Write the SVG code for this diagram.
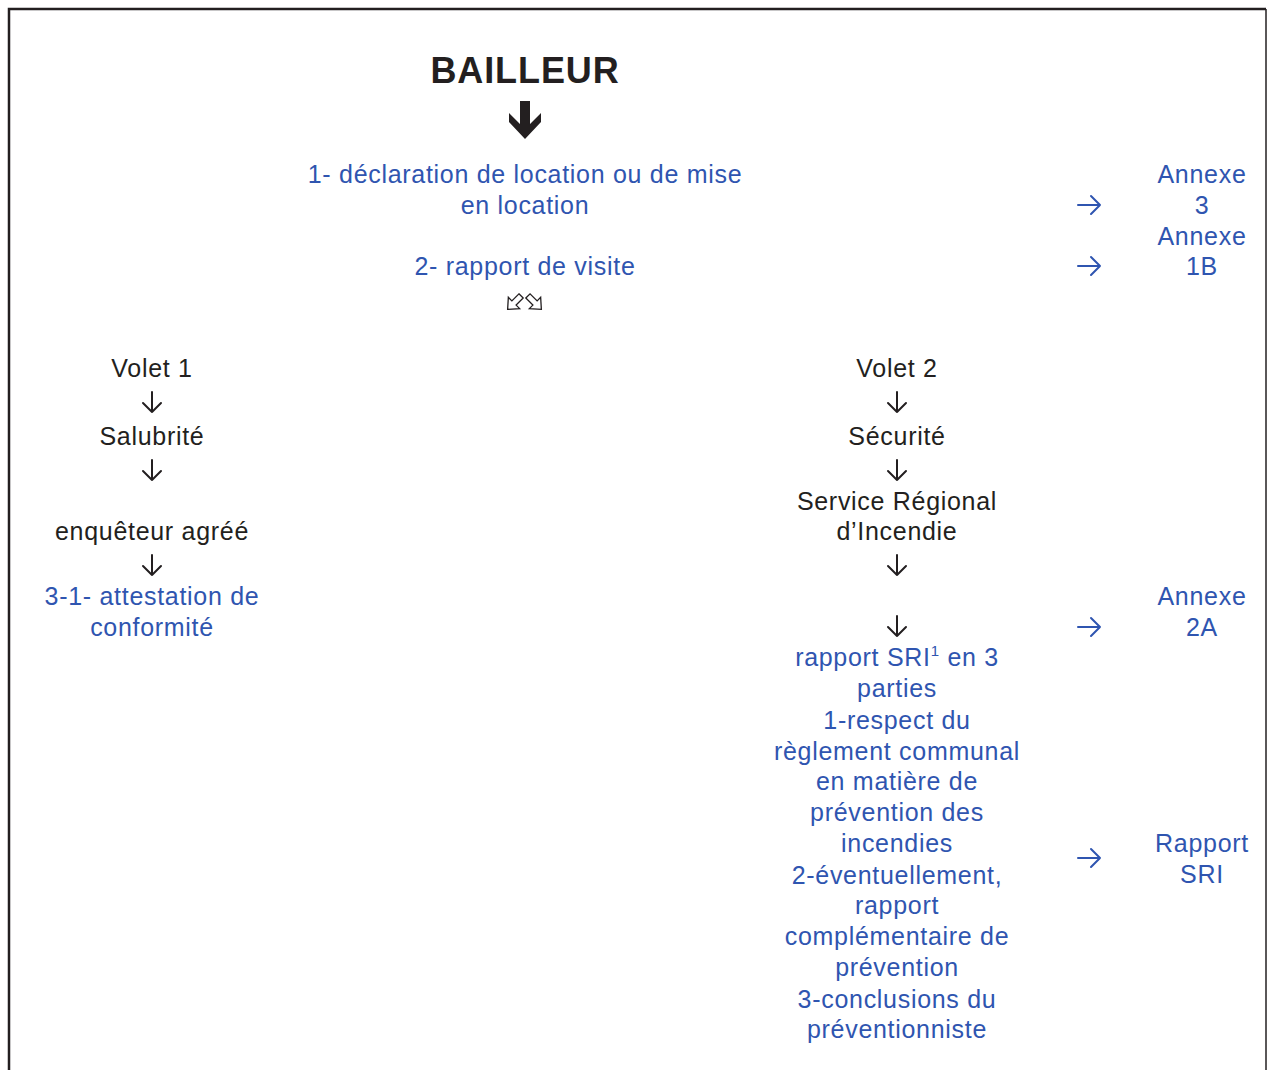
<svg xmlns="http://www.w3.org/2000/svg" width="1267" height="1070" viewBox="0 0 1267 1070">
  <style>
    text { font-family: "Liberation Sans", Arial, sans-serif; font-size: 25px; letter-spacing: 0.7px; text-anchor: middle; }
    .k { fill: #231f20; }
    .b { fill: #2f55b0; }
    .title { font-size: 36px; font-weight: bold; letter-spacing: 0.9px; }
    .down { fill: none; stroke: #231f20; stroke-width: 2; stroke-linecap: round; stroke-linejoin: round; }
    .right { fill: none; stroke: #2f55b0; stroke-width: 2; stroke-linecap: round; stroke-linejoin: round; }
    .hollow { fill: #fff; stroke: #231f20; stroke-width: 1.3; stroke-linejoin: miter; }
  </style>
  <defs>
    <!-- thin downward arrow, centred on its origin -->
    <path id="arrDown" d="M0,-10 V10 M-9,1 L0,10 L9,1"/>
    <!-- thin rightward arrow, centred on its origin -->
    <path id="arrRight" d="M-12,0 H10 M1,-9 L10,0 L1,9"/>
    <!-- outlined arrow pointing down, rotated for the diagonal variants -->
    <path id="arrHollow" d="M-3,-10 H3 V0 H8 L0,9 L-8,0 H-3 Z"/>
  </defs>

  <!-- frame -->
  <g id="frame" fill="none" stroke="#231f20">
    <path d="M9,1070 V9 H1266" stroke-width="2.5"/>
    <path d="M1266,9 V1070" stroke-width="1.5"/>
  </g>

  <!-- connectors -->
  <g id="connectors">
    <polygon id="main-arrow" fill="#231f20" points="520,101 530,101 530,124 541,113 541,122 525,139 509,122 509,113 520,124"/>
    <use href="#arrHollow" class="hollow" transform="translate(514,303) rotate(45)"/>
    <use href="#arrHollow" class="hollow" transform="translate(535,303) rotate(-45)"/>

    <use href="#arrDown" class="down" x="152" y="402"/>
    <use href="#arrDown" class="down" x="152" y="470"/>
    <use href="#arrDown" class="down" x="152" y="565"/>

    <use href="#arrDown" class="down" x="897" y="402"/>
    <use href="#arrDown" class="down" x="897" y="470"/>
    <use href="#arrDown" class="down" x="897" y="565"/>
    <use href="#arrDown" class="down" x="897" y="626"/>

    <use href="#arrRight" class="right" x="1090" y="205"/>
    <use href="#arrRight" class="right" x="1090" y="266"/>
    <use href="#arrRight" class="right" x="1090" y="627"/>
    <use href="#arrRight" class="right" x="1090" y="858"/>
  </g>

  <!-- top: landlord and declarations -->
  <g id="bailleur">
    <text class="k title" x="525" y="83">BAILLEUR</text>
  </g>
  <g id="declaration">
    <text class="b" x="525" y="183">1- déclaration de location ou de mise</text>
    <text class="b" x="525" y="214">en location</text>
  </g>
  <g id="rapport-visite">
    <text class="b" x="525" y="275">2- rapport de visite</text>
  </g>
  <g id="annexe-3">
    <text class="b" x="1202" y="183">Annexe</text>
    <text class="b" x="1202" y="214">3</text>
  </g>
  <g id="annexe-1b">
    <text class="b" x="1202" y="245">Annexe</text>
    <text class="b" x="1202" y="275">1B</text>
  </g>

  <!-- part 1 -->
  <g id="volet-1">
    <text class="k" x="152" y="377">Volet 1</text>
  </g>
  <g id="salubrite">
    <text class="k" x="152" y="445">Salubrité</text>
  </g>
  <g id="enqueteur">
    <text class="k" x="152" y="540">enquêteur agréé</text>
  </g>
  <g id="attestation">
    <text class="b" x="152" y="605">3-1- attestation de</text>
    <text class="b" x="152" y="636">conformité</text>
  </g>

  <!-- part 2 -->
  <g id="volet-2">
    <text class="k" x="897" y="377">Volet 2</text>
  </g>
  <g id="securite">
    <text class="k" x="897" y="445">Sécurité</text>
  </g>
  <g id="sri">
    <text class="k" x="897" y="510">Service Régional</text>
    <text class="k" x="897" y="540">d’Incendie</text>
  </g>
  <g id="rapport-sri">
    <text class="b" x="897" y="666">rapport SRI<tspan font-size="15" dy="-10">1</tspan><tspan dy="10"> en 3</tspan></text>
    <text class="b" x="897" y="697">parties</text>
    <text class="b" x="897" y="729">1-respect du</text>
    <text class="b" x="897" y="760">règlement communal</text>
    <text class="b" x="897" y="790">en matière de</text>
    <text class="b" x="897" y="821">prévention des</text>
    <text class="b" x="897" y="852">incendies</text>
    <text class="b" x="897" y="884">2-éventuellement,</text>
    <text class="b" x="897" y="914">rapport</text>
    <text class="b" x="897" y="945">complémentaire de</text>
    <text class="b" x="897" y="976">prévention</text>
    <text class="b" x="897" y="1008">3-conclusions du</text>
    <text class="b" x="897" y="1038">préventionniste</text>
  </g>
  <g id="annexe-2a">
    <text class="b" x="1202" y="605">Annexe</text>
    <text class="b" x="1202" y="636">2A</text>
  </g>
  <g id="rapport-sri-ref">
    <text class="b" x="1202" y="852">Rapport</text>
    <text class="b" x="1202" y="883">SRI</text>
  </g>
</svg>
